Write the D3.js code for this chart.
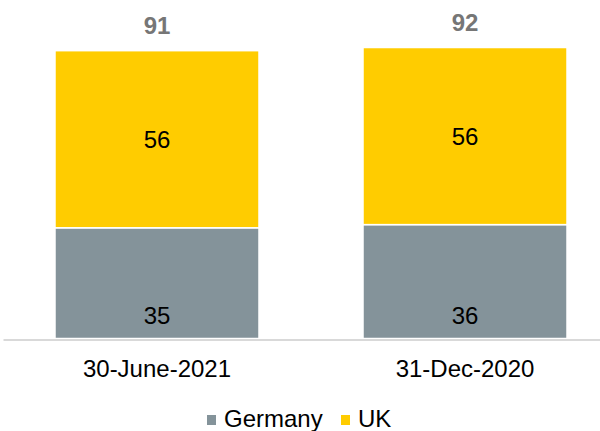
<!DOCTYPE html>
<html>
<head>
<meta charset="utf-8">
<script src="https://cdn.jsdelivr.net/npm/d3@7"></script>
<style>
  html, body { margin: 0; padding: 0; background: #ffffff; }
  svg { display: block; font-family: "Liberation Sans", Arial, sans-serif; }
</style>
</head>
<body>
<svg id="chart" width="600" height="431"></svg>
<script>
const categories = ["30-June-2021", "31-Dec-2020"];
const seriesNames = ["Germany", "UK"];
const germany = [35, 36];
const uk = [56, 56];
const totals = [91, 92];
const colors = ["#84939a", "#ffcc00"];

const svg = d3.select("#chart");
const FS = "24px";

const x = d3.scaleBand()
  .domain(categories)
  .range([3, 619])
  .paddingInner(0.3377)
  .paddingOuter(0.1688);

const y = d3.scaleLinear()
  .domain([0, 100])
  .range([338.5, 22.2]);

const rows = categories.map((c, i) => ({ cat: c, Germany: germany[i], UK: uk[i], total: totals[i] }));
const stack = d3.stack().keys(seriesNames)(rows);

// bars
const g = svg.append("g");
stack.forEach((layer, li) => {
  g.selectAll(null)
    .data(layer)
    .enter()
    .append("rect")
    .attr("x", d => x(d.data.cat))
    .attr("width", x.bandwidth())
    .attr("y", d => y(d[1]))
    .attr("height", d => y(d[0]) - y(d[1]))
    .attr("fill", colors[li])
    .attr("stroke", "#ffffff")
    .attr("stroke-width", 1.5);
});

// axis baseline
const xAxis = d3.axisBottom(x).tickSize(0).tickPadding(0);
const axG = svg.append("g")
  .attr("transform", `translate(0,${y(0) + 1})`)
  .call(xAxis);
axG.select(".domain").attr("stroke", "#d9d9d9").attr("stroke-width", 2);
axG.selectAll(".tick text")
  .attr("y", 37.5)
  .attr("dy", null)
  .attr("fill", "#000000")
  .attr("font-size", FS)
  .attr("font-family", "Liberation Sans, Arial, sans-serif");

// segment labels
// Germany: inside base
svg.selectAll(null)
  .data(stack[0])
  .enter()
  .append("text")
  .attr("x", d => x(d.data.cat) + x.bandwidth() / 2)
  .attr("y", d => y(d[0]) - 15)
  .attr("text-anchor", "middle")
  .attr("font-size", FS)
  .attr("fill", "#000000")
  .text(d => d.data.Germany);

// UK: center
svg.selectAll(null)
  .data(stack[1])
  .enter()
  .append("text")
  .attr("x", d => x(d.data.cat) + x.bandwidth() / 2)
  .attr("y", d => (y(d[0]) + y(d[1])) / 2)
  .attr("dy", "0.36em")
  .attr("text-anchor", "middle")
  .attr("font-size", FS)
  .attr("fill", "#000000")
  .text(d => d.data.UK);

// totals
svg.selectAll(null)
  .data(rows)
  .enter()
  .append("text")
  .attr("x", d => x(d.cat) + x.bandwidth() / 2)
  .attr("y", d => y(d.total) - 17)
  .attr("text-anchor", "middle")
  .attr("font-size", FS)
  .attr("font-weight", "bold")
  .attr("fill", "#767676")
  .text(d => d.total);

// legend
const legendPos = [207, 341];
const leg = svg.append("g");
seriesNames.forEach((name, i) => {
  leg.append("rect")
    .attr("x", legendPos[i])
    .attr("y", 415)
    .attr("width", 9)
    .attr("height", 10)
    .attr("fill", colors[i]);
  leg.append("text")
    .attr("x", legendPos[i] + 17)
    .attr("y", 427)
    .attr("font-size", FS)
    .attr("fill", "#000000")
    .text(name);
});
</script>
</body>
</html>
